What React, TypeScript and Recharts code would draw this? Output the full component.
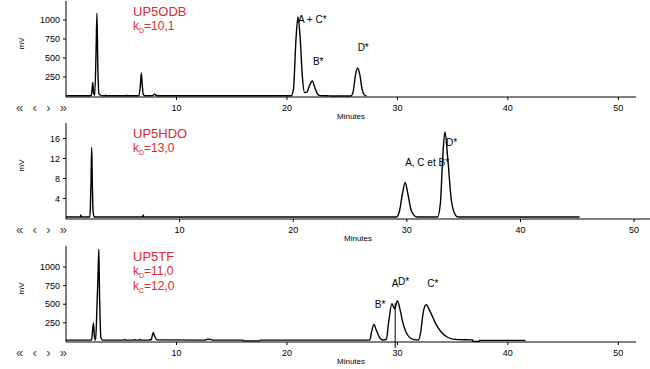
import React from 'react';
import { LineChart, Line, XAxis, YAxis, ReferenceDot, ReferenceLine } from 'recharts';

const minuteTicks = [10, 20, 30, 40, 50];
const mvTicks = [250, 500, 750, 1000];
const hdoTicks = [4, 8, 12, 16];

// traces: [minutes, signal]
const odbTrace: [number, number][] = [
  [0, 3], [2.25, 3], [2.35, 60], [2.42, 180], [2.5, 40], [2.6, 10], [2.72, 570], [2.8, 1090], [2.88, 400],
  [2.98, 30], [3.2, 5], [3.55, 3], [3.6, 12], [3.65, 3], [5.45, 3], [5.5, 10], [5.55, 3], [6.6, 3],
  [6.72, 120], [6.82, 300], [6.9, 150], [7.0, 20], [7.15, 3], [7.85, 5], [8.0, 25], [8.15, 10], [8.35, 3],
  [20.4, 3], [20.6, 100], [20.8, 700], [21.0, 1040], [21.2, 760], [21.4, 250], [21.6, 45], [21.8, 50],
  [22.05, 140], [22.3, 197], [22.55, 100], [22.8, 20], [23.0, 5], [23.7, 3], [24, 0], [25.8, 0],
  [26.0, 60], [26.2, 270], [26.4, 368], [26.6, 280], [26.8, 90], [27.0, 15], [27.2, 0],
];

const hdoTrace: [number, number][] = [
  [0, 0.3], [1.25, 0.3], [1.3, 0.7], [1.35, 0.3], [2.1, 0.3], [2.15, 2.5], [2.2, 7], [2.26, 14.2],
  [2.32, 7], [2.38, 1.5], [2.48, 0.3], [6.75, 0.3], [6.8, 0.7], [6.85, 0.3], [29.1, 0.3], [29.35, 1.5],
  [29.6, 4.8], [29.85, 7.2], [30.1, 4.8], [30.4, 1.5], [30.9, 0.3], [32.7, 0.3], [32.95, 3],
  [33.15, 12], [33.35, 17.3], [33.6, 12], [33.9, 4], [34.2, 1], [34.5, 0.3], [45.2, 0.3],
];

const tfTrace: [number, number][] = [
  [0, 18], [2.3, 18], [2.38, 100], [2.48, 250], [2.58, 60], [2.68, 20], [2.8, 450], [2.9, 900],
  [2.97, 1240], [3.04, 600], [3.1, 230], [3.16, 50], [3.3, 18], [5.2, 18], [5.3, 28], [5.4, 18],
  [6.1, 18], [6.2, 28], [6.3, 18], [6.6, 18], [6.7, 28], [6.8, 18], [7.5, 18], [7.6, 28], [7.7, 18],
  [7.8, 70], [7.9, 120], [8.05, 60], [8.25, 22], [12.6, 18], [12.8, 30], [13.1, 28], [13.3, 18],
  [16.0, 18], [16.05, 8], [17.5, 8], [17.6, 18], [27.5, 18], [27.65, 120], [27.87, 227], [28.1, 150],
  [28.4, 50], [28.7, 20], [29.0, 30], [29.2, 250], [29.5, 507], [29.75, 440], [30.0, 547], [30.25, 420],
  [30.5, 250], [30.8, 120], [31.1, 55], [31.5, 25], [31.9, 20], [32.1, 120], [32.35, 400], [32.6, 493],
  [33.0, 390], [33.5, 230], [34.0, 120], [34.5, 60], [35.0, 32], [35.5, 25], [36.8, 22], [36.85, 0],
  [37.4, 0], [37.45, 15], [41.6, 15],
];

const odbPeaks = [
  { name: 'A + C*', t: 21.0, v: 1013 },
  { name: 'B*', t: 22.35, v: 460 },
  { name: 'D*', t: 26.4, v: 645 },
];
const hdoPeaks = [
  { name: 'A, C et B*', t: 29.85, v: 11.3 },
  { name: 'D*', t: 33.45, v: 15.3 },
];
const tfPeaks = [
  { name: 'B*', t: 27.95, v: 503 },
  { name: 'A', t: 29.5, v: 785 },
  { name: 'D*', t: 30.05, v: 810 },
  { name: 'C*', t: 32.7, v: 785 },
];

const font = '"Liberation Sans", Arial, sans-serif';
const red = '#e3262b';

function Panel({ top, trace, yDomain, yTicks, xMax, right, peaks, children, dropLine }: any) {
  const data = trace.map(([t, v]: [number, number]) => ({ t, v }));
  return (
    <div style={{ position: 'absolute', left: 0, top, width: 650, height: 123 }}>
      <LineChart width={650} height={123} data={data} margin={{ top: 1, right, bottom: 0, left: 0 }}>
        <XAxis
          dataKey="t"
          type="number"
          domain={[0, xMax]}
          allowDataOverflow
          ticks={minuteTicks}
          tickSize={3}
          tickMargin={5}
          height={26}
          stroke="#000"
          tick={{ fontSize: 9, fill: '#000', fontFamily: font }}
          label={{ value: 'Minutes', position: 'insideBottom', offset: 4, fontSize: 8, fill: '#000', fontFamily: font }}
        />
        <YAxis
          type="number"
          domain={yDomain}
          allowDataOverflow
          ticks={yTicks}
          tickSize={3}
          tickMargin={3}
          width={66}
          stroke="#000"
          tick={{ fontSize: 9, fill: '#000', fontFamily: font }}
        />
        {dropLine != null && (
          <ReferenceLine
            segment={[{ x: dropLine[0], y: dropLine[1] }, { x: dropLine[0], y: dropLine[2] }]}
            stroke="#000"
            ifOverflow="visible"
          />
        )}
        <Line type="monotone" dataKey="v" stroke="#000" strokeWidth={1.4} dot={false} isAnimationActive={false} />
        {peaks.map((p: any) => (
          <ReferenceDot
            key={p.name + p.t}
            x={p.t}
            y={p.v}
            r={0}
            fill="none"
            stroke="none"
            ifOverflow="visible"
            label={{ value: p.name, position: 'right', offset: 0, fontSize: 10, fill: '#000', fontFamily: font }}
          />
        ))}
      </LineChart>
      <div style={{ position: 'absolute', left: 15, top: 39, transform: 'rotate(-90deg)', fontSize: 8, fontFamily: font }}>mV</div>
      <div style={{ position: 'absolute', left: 16, top: 100, width: 51, fontSize: 13, color: '#444', fontFamily: font, display: 'flex', justifyContent: 'space-between' }}>
        <span>«</span><span>‹</span><span>›</span><span>»</span>
      </div>
      <div style={{ position: 'absolute', left: 133, top: 4, color: red, fontFamily: font }}>
        {children}
      </div>
    </div>
  );
}

const sub = { fontSize: 7, lineHeight: 0, position: 'relative' as const, top: 3 };
const line1 = { fontSize: 13, lineHeight: '15px', height: 15 };
const line2 = { fontSize: 12, lineHeight: '15px', height: 15 };

export default function App() {
  return (
    <div style={{ position: 'absolute', left: 0, top: 0, width: 650, height: 369, background: '#fff' }}>
      <Panel top={0} trace={odbTrace} yDomain={[-13, 1250]} yTicks={mvTicks} xMax={51.6} right={14} peaks={odbPeaks}>
        <div style={line1}>UP5ODB</div>
        <div style={line2}>k<span style={sub}>D</span>=10,1</div>
      </Panel>
      <Panel top={122} trace={hdoTrace} yDomain={[-0.1, 19.1]} yTicks={hdoTicks} xMax={51.4} right={0} peaks={hdoPeaks}>
        <div style={line1}>UP5HDO</div>
        <div style={line2}>k<span style={sub}>D</span>=13,0</div>
      </Panel>
      <Panel top={245} trace={tfTrace} yDomain={[-7, 1282]} yTicks={mvTicks} xMax={51.6} right={14} peaks={tfPeaks} dropLine={[29.8, -87, 515]}>
        <div style={line1}>UP5TF</div>
        <div style={line2}>k<span style={sub}>D</span>=11,0</div>
        <div style={line2}>k<span style={sub}>C</span>=12,0</div>
      </Panel>
    </div>
  );
}
